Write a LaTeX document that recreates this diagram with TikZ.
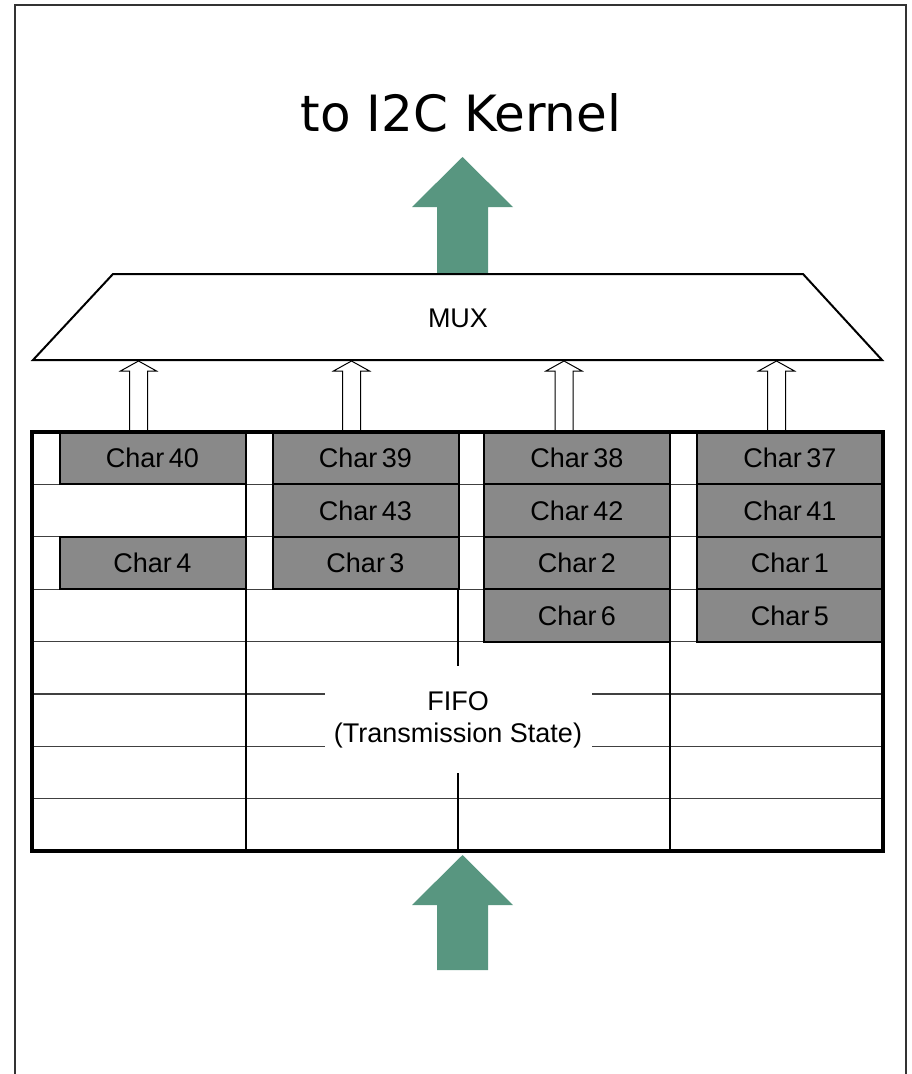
\documentclass[tikz,border=0pt]{standalone}
\usepackage{fontspec}
\setmainfont{Liberation Sans}
\newfontfamily\titlefont{DejaVu Sans}
\usepackage{tikz}
\usetikzlibrary{positioning,calc}

\definecolor{kernelgreen}{RGB}{88,150,128}
\definecolor{chargray}{RGB}{137,137,137}

\newcommand{\charFont}{\fontsize{27}{32}\selectfont\spaceskip=4.5pt\relax}

\newcommand{\drawBlockArrow}[2]{
    \begin{scope}[shift={(#1)}]
        \fill[kernelgreen] (0,0) -- (50.5,50) -- (25.5,50) -- (25.5,#2) -- (-25.5,#2) -- (-25.5,50) -- (-50.5,50) -- cycle;
    \end{scope}
}
\newcommand{\drawBusArrow}[1]{
    \begin{scope}[shift={(#1)}]
        \filldraw[fill=white,line width=1pt] (-9,0) -- (-9,-61) -- (-18,-61) -- (0,-71) -- (18,-61) -- (9,-61) -- (9,0);
    \end{scope}
}

\begin{document}
\begin{tikzpicture}[x=1pt,y=-1pt,line join=miter,
    charbox/.style={draw,line width=2pt,fill=chargray,minimum width=186pt,minimum height=52.4pt,
        inner sep=0pt,outer sep=0pt,font=\charFont},
    gridline/.style={line width=1.3pt,black!75},
    colline/.style={line width=2pt}]

        \useasboundingbox (0,0) rectangle (912,1074);

        % --- Frame ---
        \draw[line width=2.2pt,black!80] (15,1080) -- (15,5) -- (906,5) -- (906,1080);

        % --- Title ---
        \node[font=\titlefont\fontsize{50}{60}\selectfont] (title) at (461,113) {to I2C Kernel};

        % Kernel arrows
        \coordinate (kernelTip) at (462.5,157);
        \coordinate (fifoTip) at (462.5,855);
        \drawBlockArrow{kernelTip}{117}
        \drawBlockArrow{fifoTip}{115}

        % --- MUX ---
        \coordinate (muxTL) at (113,274);
        \coordinate (muxTR) at (803,274);
        \coordinate (muxBR) at (882,360);
        \coordinate (muxBL) at (33,360);
        \draw[line width=2pt] (muxTL) -- (muxTR) -- (muxBR) -- (muxBL) -- cycle;
        \node[font=\fontsize{27}{32}\selectfont] (mux) at (458,318) {MUX};

        % Bus arrows into the MUX
        \drawBusArrow{138.5,432}
        \drawBusArrow{351.5,432}
        \drawBusArrow{564,432}
        \drawBusArrow{776.5,432}

        % --- FIFO grid ---
        \draw[gridline] (32,484.4) -- (883,484.4);
        \draw[gridline] (32,536.8) -- (883,536.8);
        \draw[gridline] (32,589.2) -- (883,589.2);
        \draw[gridline] (32,641.6) -- (883,641.6);
        \draw[gridline] (32,694) -- (883,694);
        \draw[gridline] (32,746.4) -- (883,746.4);
        \draw[gridline] (32,798.8) -- (883,798.8);

        \draw[colline] (246,432) -- (246,851);
        \draw[colline] (458,432) -- (458,851);
        \draw[colline] (670,432) -- (670,851);

        % Characters, column 1
        \node[charbox] (c40) at (152.5,458.2) {Char 40};
        \node[charbox, below=52.4pt of c40] (c4) {Char 4};

        % Characters, column 2
        \node[charbox] (c39) at (365.5,458.2) {Char 39};
        \node[charbox, below=0pt of c39] (c43) {Char 43};
        \node[charbox, below=0pt of c43] (c3) {Char 3};

        % Characters, column 3
        \node[charbox] (c38) at (577,458.2) {Char 38};
        \node[charbox, below=0pt of c38] (c42) {Char 42};
        \node[charbox, below=0pt of c42] (c2) {Char 2};
        \node[charbox, below=0pt of c2] (c6) {Char 6};

        % Characters, column 4
        \node[charbox] (c37) at (790,458.2) {Char 37};
        \node[charbox, below=0pt of c37] (c41) {Char 41};
        \node[charbox, below=0pt of c41] (c1) {Char 1};
        \node[charbox, below=0pt of c1] (c5) {Char 5};

        % FIFO label
        \node[fill=white,minimum width=267pt,minimum height=107pt,inner sep=0pt,align=center,
            font=\fontsize{27}{32}\selectfont] (fifo) at (458,719.5) {FIFO\\(Transmission State)};

        % Outer border
        \draw[line width=4pt] (32,432) rectangle (883,851);

    \end{tikzpicture}
\end{document}
